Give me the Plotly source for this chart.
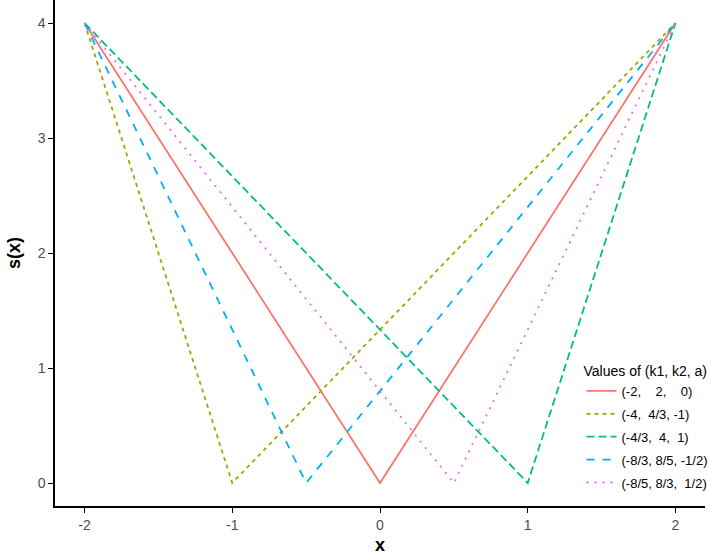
import plotly.graph_objects as go

# Data: each curve goes from (-2, 4) down to (a, 0) and back up to (2, 4)
a_values = [0, -1, 1, -0.5, 0.5]
x_ends = [-2, 2]
y_ends = [4, 4]
labels = [
    "(-2,\u00a0\u00a0\u00a0\u00a02,\u00a0\u00a0\u00a0\u00a00)",
    "(-4,\u00a0\u00a04/3, -1)",
    "(-4/3,\u00a0\u00a04,\u00a0\u00a01)",
    "(-8/3, 8/5, -1/2)",
    "(-8/5, 8/3,\u00a0\u00a01/2)",
]
colors = ["#F8766D", "#A3A500", "#00BF7D", "#00B0F6", "#E76BF3"]
dashes = ["solid", "4px,4px", "8px,4px", "8px,8px", "2px,6px"]
x_ticks = [-2, -1, 0, 1, 2]
x_ticktext = ["-2", "-1", "0", "1", "2"]
y_ticks = [0, 1, 2, 3, 4]
y_ticktext = ["0", "1", "2", "3", "4"]

fig = go.Figure()
for i, (a, lab, col, d) in enumerate(zip(a_values, labels, colors, dashes)):
    fig.add_trace(go.Scatter(
        x=[x_ends[0], a, x_ends[1]],
        y=[y_ends[0], 0, y_ends[1]],
        mode="lines",
        name=lab,
        legendgroup=f"g{i}",
        line=dict(color=col, width=1.8, dash=d),
    ))

font_family = "Liberation Sans, Arial, sans-serif"
fig.update_layout(
    width=709, height=556,
    margin=dict(l=55, r=4, t=0, b=50, autoexpand=False),
    paper_bgcolor="white", plot_bgcolor="white",
    font=dict(family=font_family, size=13, color="#333333"),
    xaxis=dict(
        range=[-2.2, 2.2], tickvals=x_ticks, ticktext=x_ticktext,
        showgrid=False, zeroline=False, automargin=False,
        showline=True, linecolor="black", linewidth=1.5,
        ticks="outside", ticklen=5, tickcolor="black", tickwidth=1.2,
        tickfont=dict(size=14, color="#4D4D4D"),
        title=dict(text="<b>x</b>", font=dict(size=18, color="black"), standoff=7),
    ),
    yaxis=dict(
        range=[-0.2, 4.2], tickvals=y_ticks, ticktext=y_ticktext,
        showgrid=False, zeroline=False, automargin=False,
        showline=True, linecolor="black", linewidth=1.5,
        ticks="outside", ticklen=5, tickcolor="black", tickwidth=1.2,
        tickfont=dict(size=14, color="#4D4D4D"),
        title=dict(text="<b>s(x)</b>", font=dict(size=18, color="black"), standoff=12),
    ),
    legend=dict(
        title=dict(text="Values of (k1, k2, a)", font=dict(size=14, color="black")),
        x=0.81, xanchor="left", y=0.293, yanchor="top",
        bgcolor="rgba(255,255,255,0)",
        font=dict(size=13, color="black"),
        tracegroupgap=3,
        itemwidth=30,
    ),
)

fig.write_html("out.html", config={"displayModeBar": False},
               post_script="document.body.style.margin='0';")
